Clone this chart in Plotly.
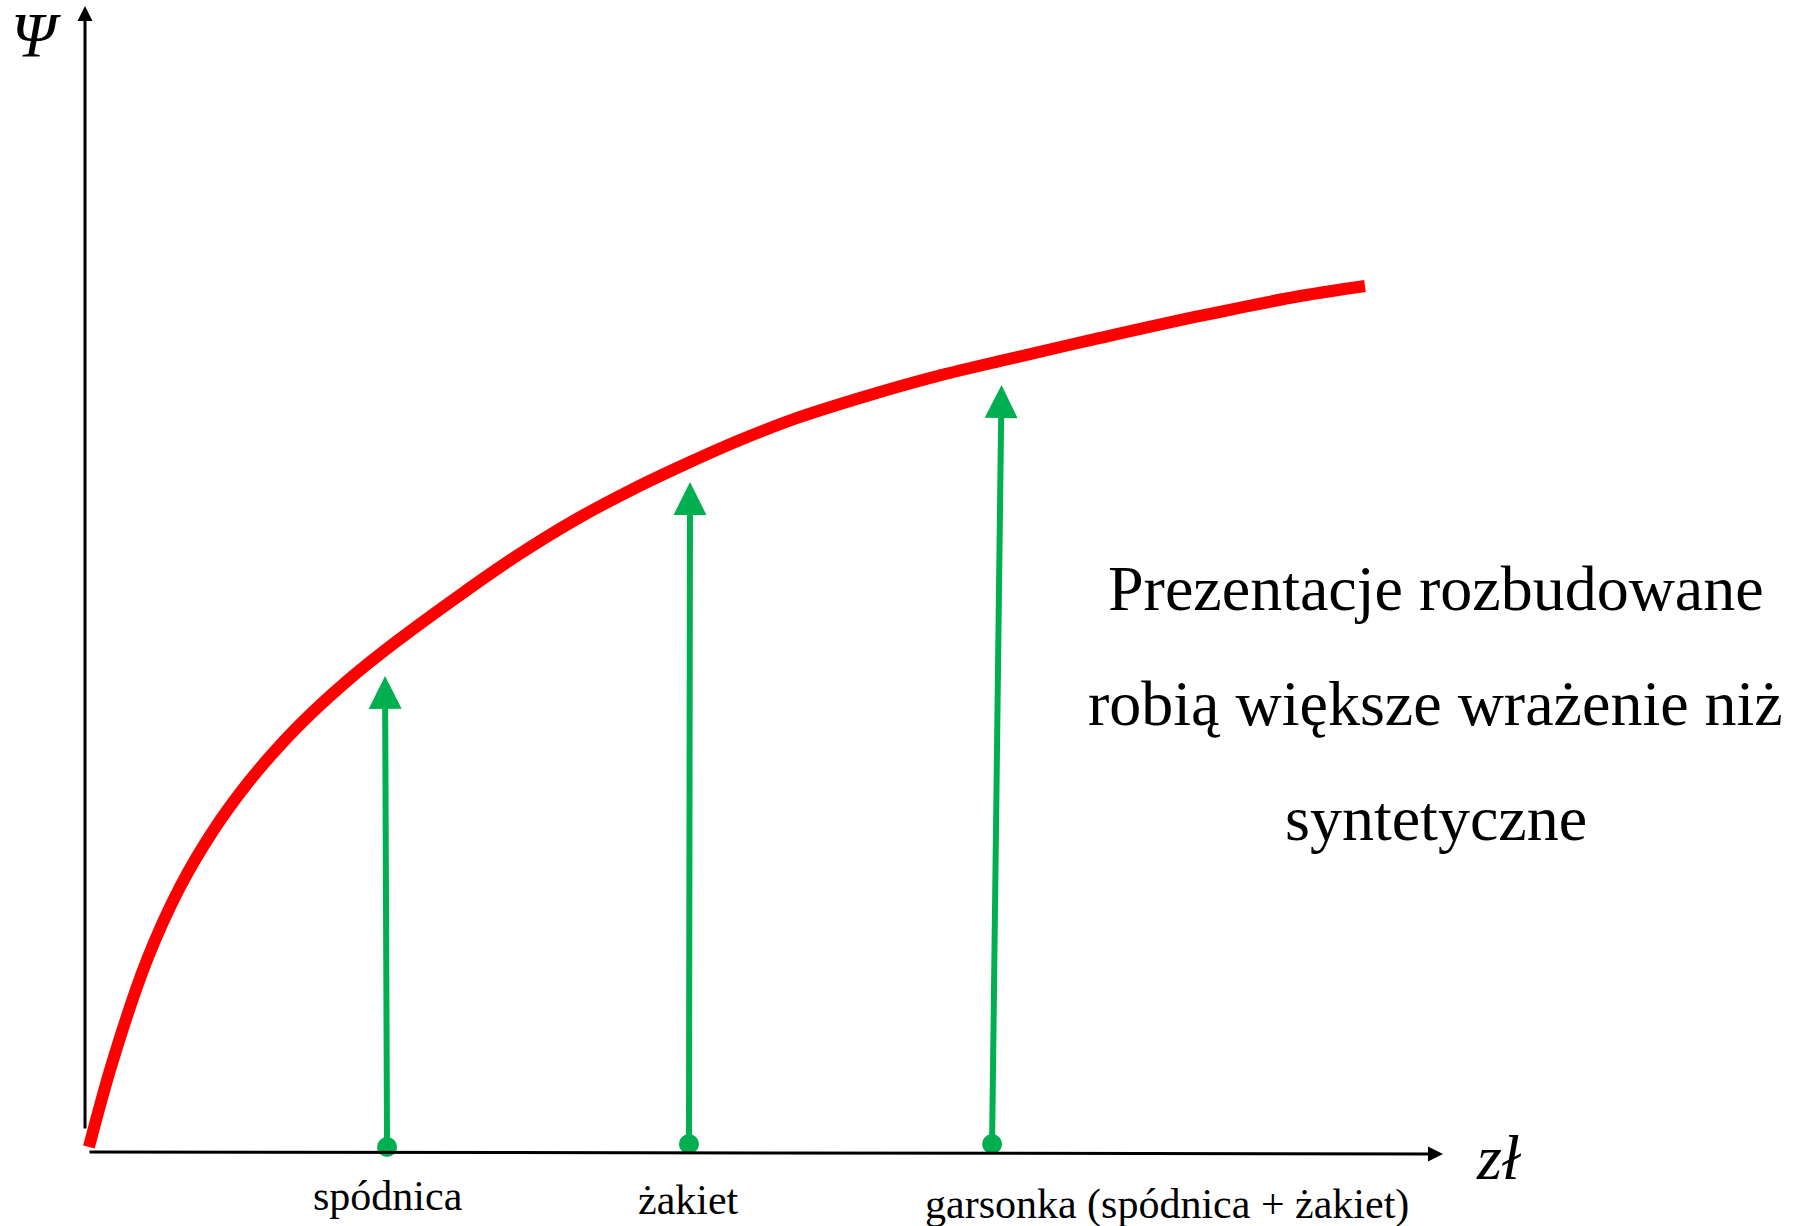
import plotly.graph_objects as go

# ---- data (arbitrary units: money "zł" on x, psychological value Ψ on y) ----
money = [0.07, 1.85, 4.35, 6.79, 9.23, 11.73, 14.17, 16.61, 19.11, 22.80, 27.45, 31.73,
         35.94, 40.22, 44.43, 48.12, 52.55, 57.71, 62.14, 67.31, 74.69, 82.07, 89.45, 94.24]
psi = [0.44, 8.03, 16.75, 23.12, 28.02, 32.11, 35.48, 38.42, 41.09, 44.58, 48.60, 52.09,
       55.15, 57.85, 60.21, 62.13, 64.14, 66.06, 67.54, 69.02, 71.03, 72.95, 74.69, 75.57]

items = ["spódnica", "żakiet", "garsonka (spódnica + żakiet)"]
item_base_x = [22.07, 44.35, 66.72]
item_base_y = [0.44, 0.70, 0.70]
item_tip_x = [21.92, 44.43, 67.42]
item_tip_y = [41.54, 58.46, 66.93]
label_x = [22.12, 44.28, 79.6]
label_y = [-3.88, -4.19, -4.55]

note_lines = ["Prezentacje rozbudowane", "robią większe wrażenie niż", "syntetyczne"]
note_y = [49.2, 39.1, 29.06]
note_x = 99.48

axis_x_end = 100
axis_y_end = 100

RED = "#FF0000"
GREEN = "#00B050"
FONT = "Liberation Serif, Times New Roman, serif"

fig = go.Figure()

# utility curve
fig.add_trace(go.Scatter(x=money, y=psi, mode="lines",
                         line=dict(color=RED, width=12, shape="spline", smoothing=1.0),
                         hoverinfo="skip", showlegend=False))

# dots at bases
fig.add_trace(go.Scatter(x=item_base_x, y=item_base_y, mode="markers",
                         marker=dict(color=GREEN, size=20, line=dict(width=0)),
                         hoverinfo="skip", showlegend=False))

annotations = []

# axes arrows
annotations.append(dict(x=-0.22, y=axis_y_end, ax=-0.22, ay=1.92, xref="x", yref="y",
                        axref="x", ayref="y", text="", showarrow=True, arrowhead=2,
                        arrowwidth=3, arrowsize=1, arrowcolor="black", standoff=0))
annotations.append(dict(x=axis_x_end, y=-0.17, ax=0, ay=0, xref="x", yref="y",
                        axref="x", ayref="y", text="", showarrow=True, arrowhead=2,
                        arrowwidth=3, arrowsize=1, arrowcolor="black", standoff=0))

# green arrows
for bx, by, tx, ty in zip(item_base_x, item_base_y, item_tip_x, item_tip_y):
    annotations.append(dict(x=tx, y=ty, ax=bx, ay=by, xref="x", yref="y",
                            axref="x", ayref="y", text="", showarrow=True, arrowhead=2,
                            arrowwidth=6, arrowsize=1.1, arrowcolor=GREEN, standoff=0))

# item labels
for t, lx, ly in zip(items, label_x, label_y):
    annotations.append(dict(x=lx, y=ly, xref="x", yref="y", text=t, showarrow=False,
                            xanchor="center", yanchor="middle",
                            font=dict(family=FONT, size=42, color="black")))

# note text
for t, ny in zip(note_lines, note_y):
    annotations.append(dict(x=note_x, y=ny, xref="x", yref="y", text=t, showarrow=False,
                            xanchor="center", yanchor="middle",
                            font=dict(family=FONT, size=64, color="black")))

# axis titles
annotations.append(dict(x=-3.84, y=97.46, xref="x", yref="y", text="<i>Ψ</i>",
                        showarrow=False, xanchor="center", yanchor="middle",
                        font=dict(family=FONT, size=64, color="black")))
annotations.append(dict(x=104.13, y=-0.52, xref="x", yref="y", text="<i>zł</i>",
                        showarrow=False, xanchor="center", yanchor="middle",
                        font=dict(family=FONT, size=64, color="black")))

fig.update_layout(
    width=1804, height=1226,
    margin=dict(l=0, r=0, t=0, b=0),
    paper_bgcolor="white", plot_bgcolor="white",
    xaxis=dict(range=[-6.494, 126.64], visible=False, fixedrange=True),
    yaxis=dict(range=[-6.457, 100.52], visible=False, fixedrange=True),
    annotations=annotations,
    showlegend=False,
)

fig.write_html("out.html", config={"displayModeBar": False},
               post_script="document.body.style.margin='0';document.body.style.overflow='hidden';")
